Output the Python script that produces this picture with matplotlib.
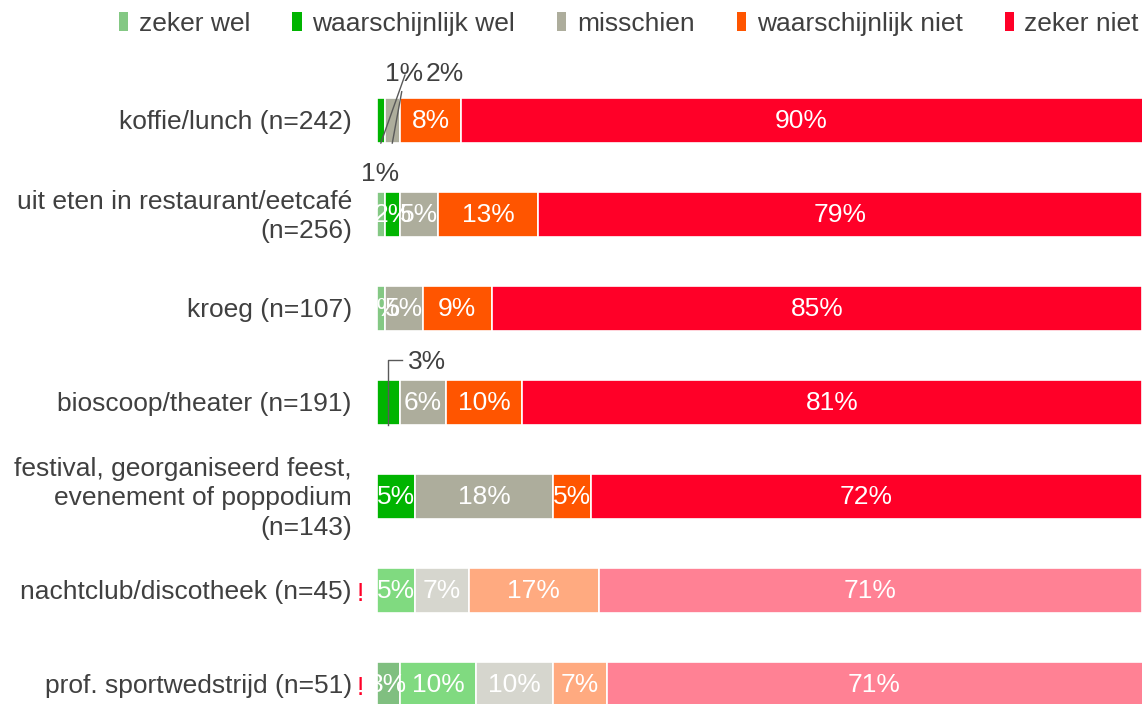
import matplotlib.pyplot as plt
from matplotlib.patches import Patch

# data (percentages), top row first
categories = [
    "koffie/lunch (n=242)",
    "uit eten in restaurant/eetcafé\n(n=256)",
    "kroeg (n=107)",
    "bioscoop/theater (n=191)",
    "festival, georganiseerd feest,\nevenement of poppodium\n(n=143)",
    "nachtclub/discotheek (n=45)",
    "prof. sportwedstrijd (n=51)",
]
series_names = ["zeker wel", "waarschijnlijk wel", "misschien", "waarschijnlijk niet", "zeker niet"]
zeker_wel = [0, 1, 1, 0, 0, 0, 3]
waarschijnlijk_wel = [1, 2, 0, 3, 5, 5, 10]
misschien = [2, 5, 5, 6, 18, 7, 10]
waarschijnlijk_niet = [8, 13, 9, 10, 5, 17, 7]
zeker_niet = [90, 79, 85, 81, 72, 71, 71]
low_n = [False, False, False, False, False, True, True]

# labels that sit outside the bar: (row, series, text x, text y offset)
outside_labels = [
    (0, 1, 3.5, -0.495),
    (0, 2, 8.8, -0.495),
    (1, 0, 0.46, -0.436),
    (3, 1, 6.6, -0.431),
]

colors = ["#84C884", "#00B400", "#ADAD9C", "#FF5500", "#FF0028"]
colors_faded = ["#80BF80", "#80DA80", "#D6D6CE", "#FFAA80", "#FF8194"]
c_text = "#404040"

plt.rcParams["font.family"] = ["Liberation Sans", "DejaVu Sans"]
FS = 19

fig = plt.figure(figsize=(11.42, 7.04), dpi=100)
top_px, row0_px, step_px = 60, 120.5, 94.0
ax = fig.add_axes([377 / 1142, 0, 1 - 377 / 1142, (704 - top_px) / 704])
ax.set_xlim(0, 100)
ax.set_ylim((704 - row0_px) / step_px, (top_px - row0_px) / step_px)
ax.axis("off")

data = [zeker_wel, waarschijnlijk_wel, misschien, waarschijnlijk_niet, zeker_niet]
bar_h = 0.48
outside = {(r, s) for r, s, _, _ in outside_labels}

for r in range(len(categories)):
    left = 0
    pal = colors_faded if low_n[r] else colors
    for s, vals in enumerate(data):
        v = vals[r]
        if v == 0:
            continue
        ax.barh(r, v, left=left, height=bar_h, color=pal[s],
                edgecolor="white", linewidth=1.2, clip_on=True)
        if (r, s) not in outside:
            cx = left + v / 2
            if left + v > 100:
                cx = (left + 100) / 2
            ax.text(cx, r, f"{v}%", color="white", fontsize=FS,
                    ha="center", va="center")
        left += v

    # row labels
    ax.text(-3.3, r + 0.02, categories[r], ha="right", va="center",
            fontsize=FS, color=c_text, clip_on=False, linespacing=1.3)
    if low_n[r]:
        ax.text(-2.2, r + 0.04, "!", ha="center", va="center", fontsize=FS,
                color="#FF0028", clip_on=False)

# outside labels and their leader lines
for r, s, tx, ty in outside_labels:
    ax.text(tx, r + ty, f"{data[s][r]}%", ha="center", va="center",
            fontsize=FS, color=c_text, clip_on=False)

ax.plot([0.5, 3.66], [0 + bar_h / 2, -0.484], color="#595959", lw=1, clip_on=False)
ax.plot([2.0, 3.23], [0 + bar_h / 2, -0.306], color="#595959", lw=1, clip_on=False)
ax.plot([3.23, 1.5, 1.5], [3 - 0.45, 3 - 0.45, 3 + bar_h / 2],
        color="#595959", lw=1, clip_on=False)

handles = [Patch(facecolor=c, edgecolor="none") for c in colors]
fig.legend(handles, series_names, loc="upper right", ncol=5,
           bbox_to_anchor=(1139 / 1142, 1 - 12 / 704), frameon=False,
           fontsize=FS, handlelength=0.35, handleheight=0.75,
           handletextpad=0.4, columnspacing=1.6, borderpad=0, borderaxespad=0,
           labelcolor=c_text)

fig.savefig("out.png", dpi=100)
